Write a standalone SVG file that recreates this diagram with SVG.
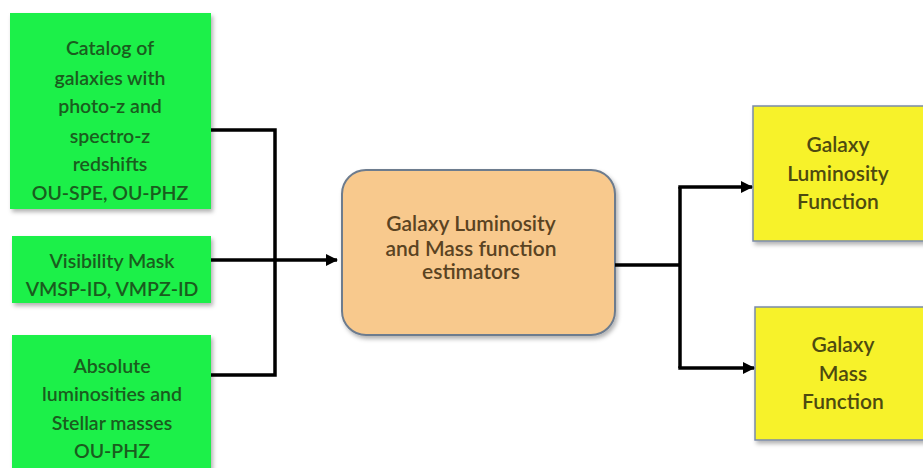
<svg xmlns="http://www.w3.org/2000/svg" width="923" height="468" viewBox="0 0 923 468">
<defs>
<filter id="sh" x="-10%" y="-10%" width="130%" height="130%"><feDropShadow dx="2" dy="3" stdDeviation="2" flood-color="#000" flood-opacity="0.3"/></filter>
<marker id="arr" markerWidth="12" markerHeight="12" refX="11" refY="6" orient="auto" markerUnits="userSpaceOnUse" viewBox="0 0 12 12"><path d="M0,0 L12,6 L0,12 z" fill="#000"/></marker>
</defs>
<style>
.g{fill:#1ef04a;filter:url(#sh)}
.y{fill:#f7f22c;stroke:#7a8aa8;stroke-width:1.5;filter:url(#sh)}
.o{fill:#f8c98d;stroke:#6d7c8e;stroke-width:2;filter:url(#sh)}
text{font-family:Lato,"Open Sans","Liberation Sans",sans-serif;font-weight:600;text-anchor:middle;dominant-baseline:central}
.tg{fill:#1a5c1e;font-size:19.5px}
.ty{fill:#4d4a10;font-size:21px}
.to{fill:#5a4322;font-size:21px}
.c{fill:none;stroke:#000;stroke-width:3.5}
</style>
<rect width="923" height="468" fill="#fff"/>
<g id="catalog">
<rect class="g" x="10" y="13" width="201" height="196"/>
<text class="tg" x="110" y="47">Catalog of</text>
<text class="tg" x="110" y="77">galaxies with</text>
<text class="tg" x="110" y="105">photo-z and</text>
<text class="tg" x="110" y="135">spectro-z</text>
<text class="tg" x="110" y="163">redshifts</text>
<text class="tg" x="110" y="192">OU-SPE, OU-PHZ</text>
</g>
<g id="mask">
<rect class="g" x="12" y="236" width="199" height="67"/>
<text class="tg" x="112" y="260">Visibility Mask</text>
<text class="tg" x="112" y="288">VMSP-ID, VMPZ-ID</text>
</g>
<g id="absolute">
<rect class="g" x="12" y="335" width="199" height="140"/>
<text class="tg" x="112" y="365">Absolute</text>
<text class="tg" x="112" y="393">luminosities and</text>
<text class="tg" x="112" y="422">Stellar masses</text>
<text class="tg" x="112" y="450">OU-PHZ</text>
</g>
<g id="estimators">
<rect class="o" x="342" y="170" width="273" height="165" rx="24"/>
<text class="to" x="471" y="222">Galaxy Luminosity</text>
<text class="to" x="471" y="247">and Mass function</text>
<text class="to" x="471" y="270">estimators</text>
</g>
<g id="lumfunc">
<rect class="y" x="753" y="106" width="180" height="135"/>
<text class="ty" x="838" y="143">Galaxy</text>
<text class="ty" x="838" y="172">Luminosity</text>
<text class="ty" x="838" y="200">Function</text>
</g>
<g id="massfunc">
<rect class="y" x="755" y="307" width="180" height="133"/>
<text class="ty" x="843" y="343">Galaxy</text>
<text class="ty" x="843" y="372">Mass</text>
<text class="ty" x="843" y="400">Function</text>
</g>
<g id="connectors">
<polyline class="c" points="211,130 275,130 275,375 211,375"/>
<line class="c" x1="211" y1="260" x2="337" y2="260" marker-end="url(#arr)"/>
<polyline class="c" points="615,265 680,265"/>
<polyline class="c" points="680,187 680,368"/>
<line class="c" x1="678.3" y1="187" x2="752" y2="187" marker-end="url(#arr)"/>
<line class="c" x1="678.3" y1="368" x2="754" y2="368" marker-end="url(#arr)"/>
</g>
</svg>
